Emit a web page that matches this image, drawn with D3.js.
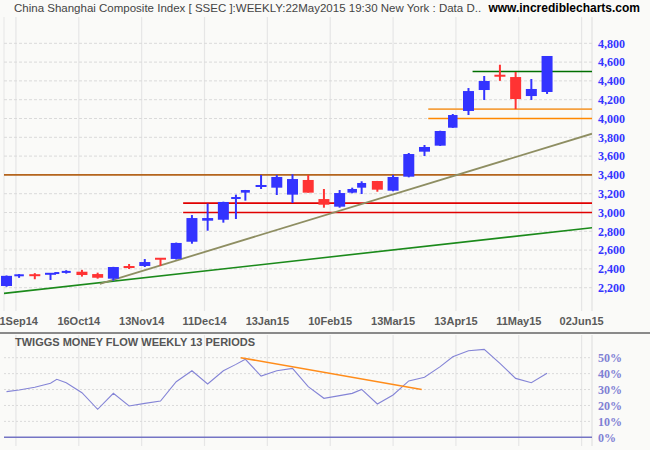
<!DOCTYPE html>
<html><head><meta charset="utf-8">
<script src="https://cdn.jsdelivr.net/npm/d3@7"></script>
<style>body{margin:0;background:#fafaf8}svg{display:block}</style>
</head><body><svg id="c" width="650" height="450"></svg>
<script>
// ---------- data ----------
const weeks = ["05Sep14","12Sep14","19Sep14","26Sep14","30Sep14","10Oct14","17Oct14","24Oct14","31Oct14","07Nov14","14Nov14","21Nov14","28Nov14","05Dec14","12Dec14","19Dec14","26Dec14","31Dec14","09Jan15","16Jan15","23Jan15","30Jan15","06Feb15","13Feb15","17Feb15","27Feb15","06Mar15","13Mar15","20Mar15","27Mar15","03Apr15","10Apr15","17Apr15","24Apr15","30Apr15","08May15","15May15","22May15"];
// trading-session index of each week's last day (x axis is session based)
const bars = [-3,1,6,11,13,16,21,26,31,36,41,46,51,56,61,66,70,73,78,83,88,93,98,103,107,110,115,120,125,130,135,139,144,149,154,159,164,169];
const open  = [2218,2326,2333,2328,2351,2362,2370,2345,2296,2420,2431,2508,2506,2689,2913,2923,3133,3211,3264,3264,3190,3346,3143,3062,3211,3264,3335,3232,3381,3647,3711,3902,4080,4303,4455,4441,4239,4282];
const high  = [2330,2345,2355,2350,2357,2386,2390,2360,2422,2452,2505,2510,2680,2973,3095,3115,3190,3240,3400,3400,3407,3399,3250,3239,3264,3332,3336,3400,3633,3718,3870,4048,4324,4452,4572,4495,4420,4665];
const low   = [2210,2305,2290,2282,2349,2350,2318,2296,2275,2399,2420,2432,2500,2668,2806,2892,2931,3126,3250,3186,3101,3211,3051,3051,3204,3197,3221,3225,3374,3601,3708,3900,4037,4197,4400,4100,4197,4261];
const close = [2326,2332,2329,2348,2356,2368,2335,2306,2420,2417,2473,2487,2676,2941,2941,3112,3154,3239,3282,3378,3356,3211,3083,3207,3250,3314,3243,3378,3622,3697,3867,4037,4292,4399,4450,4207,4314,4665];
const tmf   = [28.7,29.7,31.4,33.9,36.4,34.3,28.0,17.6,27.6,19.7,21.3,22.8,34.9,41.8,33.5,41.8,45.8,49.0,38.5,41.8,43.3,31.8,24.5,26.2,27.6,30.1,20.9,26.6,35.4,37.7,44.4,50.6,54.4,55.2,46.4,37.0,34.3,40.2];

const tickBars   = [0,20,40,60,80,100,120,140,160,180];
const tickLabels = ["11Sep14","16Oct14","13Nov14","11Dec14","13Jan15","10Feb15","13Mar15","13Apr15","11May15","02Jun15"];
const priceTicks = [2200,2400,2600,2800,3000,3200,3400,3600,3800,4000,4200,4400,4600,4800];
const pctTicks   = [0,10,20,30,40,50];

// horizontal support / resistance levels
const levelPrices = [3400,3100,3000,4100,4000,4500];
const levelFrom   = [-3.8,53.2,53.2,131.2,131.2,145.3];
// trend lines  [bar, value]
const trendOlive = [[26.7,2240],[183.3,3838]];
const trendGreen = [[-3.8,2140],[183.3,2838]];
const tmfTrend   = [[71.5,50],[129.1,30]];

const titleText = "China Shanghai Composite Index [ SSEC ]:WEEKLY:22May2015 19:30 New York : Data D..";
const siteText  = "www.incrediblecharts.com";
const tmfTitle  = "TWIGGS MONEY FLOW WEEKLY 13 PERIODS";

// ---------- layout ----------
const svg = d3.select("#c");
const W = 650, H = 450;
const plotL = 4, plotR = 592;
const mainTop = 17, mainBot = 311;
const indTop = 335, indBot = 446;

const x = d3.scaleLinear().domain([-3.8,183.3]).range([plotL, plotR]);
const y = d3.scaleLinear().domain([2200,4800]).range([287.7,43.3]);
const yi = d3.scaleLinear().domain([0,50]).range([437.3,357.7]);

svg.append("rect").attr("width",W).attr("height",H).attr("fill","#fafaf8");

// clip paths
const defs = svg.append("defs");
defs.append("clipPath").attr("id","mainClip").append("rect")
  .attr("x",plotL).attr("y",mainTop).attr("width",plotR-plotL).attr("height",mainBot-mainTop);
defs.append("clipPath").attr("id","indClip").append("rect")
  .attr("x",plotL).attr("y",indTop).attr("width",plotR-plotL).attr("height",indBot-indTop);

// ---------- main panel grid ----------
const gMain = svg.append("g");
gMain.selectAll("line.vg").data(tickBars).join("line")
  .attr("x1",d=>x(d)).attr("x2",d=>x(d)).attr("y1",mainTop).attr("y2",mainBot)
  .attr("stroke","#e6e6e6").attr("stroke-width",1.2);
gMain.append("line").attr("x1",plotL).attr("x2",plotL).attr("y1",mainTop).attr("y2",mainBot)
  .attr("stroke","#e6e6e6");
gMain.append("line").attr("x1",plotR).attr("x2",plotR).attr("y1",mainTop).attr("y2",mainBot)
  .attr("stroke","#dcdcdc");
gMain.selectAll("line.hg").data(priceTicks).join("line")
  .attr("x1",plotL).attr("x2",plotR).attr("y1",d=>y(d)).attr("y2",d=>y(d))
  .attr("stroke","#dadada").attr("stroke-dasharray","3,2");

// y labels
svg.selectAll("text.yl").data(priceTicks).join("text")
  .attr("x",598).attr("y",d=>y(d)).attr("dy","0.35em")
  .attr("font-family","'Liberation Serif','DejaVu Serif',serif").attr("font-weight","bold")
  .attr("font-size","12px").attr("fill","#3535ff")
  .text(d=>d3.format(",")(d));

// x labels
svg.selectAll("text.xl").data(tickBars).join("text")
  .attr("x",d=>x(d)).attr("y",325).attr("text-anchor","middle")
  .attr("font-family","'Liberation Sans',Arial,sans-serif").attr("font-weight","bold")
  .attr("font-size","11px").attr("fill","#5a5a5a")
  .text((d,i)=>tickLabels[i]);

// ---------- levels & trendlines ----------
const gLines = svg.append("g").attr("clip-path","url(#mainClip)");
const levelColors = ["#b5651d","#e00000","#e00000","#f5a040","#ff8800","#006f00"];
gLines.selectAll("line.lv").data(levelPrices).join("line")
  .attr("x1",(d,i)=>x(levelFrom[i])).attr("x2",x(183.3))
  .attr("y1",d=>y(d)).attr("y2",d=>y(d))
  .attr("stroke",(d,i)=>levelColors[i]).attr("stroke-width",1.6);

const line = d3.line().x(d=>x(d[0])).y(d=>y(d[1]));
gLines.append("path").attr("d",line(trendGreen)).attr("fill","none")
  .attr("stroke","#1b8a1b").attr("stroke-width",1.6);
gLines.append("path").attr("d",line(trendOlive)).attr("fill","none")
  .attr("stroke","#8e8e62").attr("stroke-width",1.8);

// ---------- candles ----------
const data = weeks.map((w,i)=>({w,bar:bars[i],o:open[i],h:high[i],l:low[i],c:close[i],
  sess: i===0 ? 5 : bars[i]-bars[i-1]}));
const bw = d3.scaleLinear().domain([2,3,4,5]).range([5,9,9.5,11]).clamp(true);
const upCol = "#3333ff", dnCol = "#ff3333";
const gC = svg.append("g");
gC.selectAll("line.wick").data(data).join("line")
  .attr("x1",d=>x(d.bar)).attr("x2",d=>x(d.bar))
  .attr("y1",d=>y(d.h)).attr("y2",d=>y(d.l))
  .attr("stroke",d=>d.c>=d.o?upCol:dnCol).attr("stroke-width",2);
gC.selectAll("rect.body").data(data).join("rect")
  .attr("x",d=>x(d.bar)-bw(d.sess)/2).attr("width",d=>bw(d.sess))
  .attr("y",d=>Math.min(y(d.o),y(d.c))-(Math.abs(y(d.o)-y(d.c))<2?1:0))
  .attr("height",d=>Math.max(2,Math.abs(y(d.o)-y(d.c))))
  .attr("fill",d=>d.c>=d.o?upCol:dnCol);

// ---------- titles ----------
svg.append("text").attr("x",14).attr("y",12)
  .attr("font-family","'Liberation Sans',Arial,sans-serif").attr("font-size","11.5px")
  .attr("fill","#444").text(titleText);
svg.append("text").attr("x",640).attr("y",12).attr("text-anchor","end")
  .attr("font-family","'Liberation Sans',Arial,sans-serif").attr("font-size","12px")
  .attr("font-weight","bold").attr("fill","#000").text(siteText);

// ---------- separator ----------
svg.append("line").attr("x1",0).attr("x2",W).attr("y1",333).attr("y2",333)
  .attr("stroke","#8a8a8a").attr("stroke-width",2);

// ---------- indicator panel ----------
const gI = svg.append("g");
gI.selectAll("line.vg").data(tickBars).join("line")
  .attr("x1",d=>x(d)).attr("x2",d=>x(d)).attr("y1",indTop).attr("y2",indBot)
  .attr("stroke","#e6e6e6").attr("stroke-width",1.2);
gI.append("line").attr("x1",plotR).attr("x2",plotR).attr("y1",indTop).attr("y2",indBot)
  .attr("stroke","#dcdcdc");
gI.selectAll("line.hg").data(pctTicks.slice(1)).join("line")
  .attr("x1",plotL).attr("x2",plotR).attr("y1",d=>yi(d)).attr("y2",d=>yi(d))
  .attr("stroke","#dadada").attr("stroke-dasharray","2,2");
gI.append("line").attr("x1",plotL).attr("x2",plotR).attr("y1",yi(0)).attr("y2",yi(0))
  .attr("stroke","#7474c4").attr("stroke-width",1.6);

svg.selectAll("text.pl").data(pctTicks).join("text")
  .attr("x",598).attr("y",d=>yi(d)).attr("dy","0.35em")
  .attr("font-family","'Liberation Serif','DejaVu Serif',serif").attr("font-weight","bold")
  .attr("font-size","12px").attr("fill","#8080d4")
  .text(d=>d+"%");

svg.append("text").attr("x",15).attr("y",346)
  .attr("font-family","'Liberation Sans',Arial,sans-serif").attr("font-weight","bold")
  .attr("font-size","11px").attr("fill","#555").text(tmfTitle);

const gIL = svg.append("g").attr("clip-path","url(#indClip)");
const tline = d3.line().x((d,i)=>x(bars[i])).y(d=>yi(d));
gIL.append("path").attr("d",tline(tmf)).attr("fill","none")
  .attr("stroke","#8484d6").attr("stroke-width",1.1);
const iline = d3.line().x(d=>x(d[0])).y(d=>yi(d[1]));
gIL.append("path").attr("d",iline(tmfTrend)).attr("fill","none")
  .attr("stroke","#ff8c1a").attr("stroke-width",1.6);
</script>
</body></html>
